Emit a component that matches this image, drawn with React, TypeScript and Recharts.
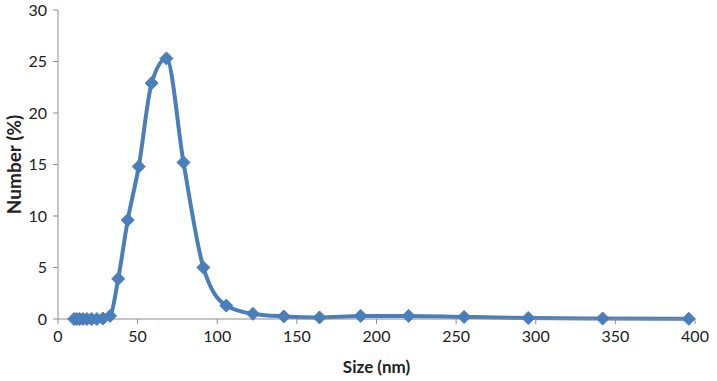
import { CartesianGrid, Line, LineChart, XAxis, YAxis } from "recharts"

// particle size bins (nm) and number distribution (%)
const sizes = [
  10.1, 11.7, 13.5, 15.7, 18.2, 21.0, 24.4, 28.2, 32.7, 37.8, 43.8, 50.7,
  58.8, 68.1, 78.8, 91.3, 105.7, 122.4, 141.8, 164.2, 190.1, 220.2, 255.0,
  295.3, 342.0, 396.1,
]
const numberPct = [
  0, 0, 0, 0, 0, 0, 0, 0.05, 0.3, 3.9, 9.6, 14.8, 22.9, 25.3, 15.2, 5.0, 1.3,
  0.5, 0.25, 0.15, 0.3, 0.3, 0.2, 0.1, 0.05, 0.02,
]
const xTicks = [0, 50, 100, 150, 200, 250, 300, 350, 400]
const yTicks = [0, 5, 10, 15, 20, 25, 30]

const data = sizes.map((size, i) => ({ size, pct: numberPct[i] }))

const BLUE = "#4a7ebb"
const FONT = "Lato, 'Open Sans', sans-serif"

function Diamond(props: any) {
  const { cx, cy } = props
  if (cx == null || cy == null) return null
  const r = 6.5
  return (
    <polygon
      points={`${cx},${cy - r} ${cx + r},${cy} ${cx},${cy + r} ${cx - r},${cy}`}
      fill={BLUE}
      stroke={BLUE}
      strokeWidth={1}
    />
  )
}

function YTitle(props: any) {
  const vb = props.viewBox || { y: 0, height: 0 }
  const cy = vb.y + vb.height / 2
  return (
    <text
      x={13}
      y={cy}
      transform={`rotate(-90, 13, ${cy})`}
      textAnchor="middle"
      dominantBaseline="central"
      style={{ fontSize: 19, fontWeight: 700, fill: "#222", fontFamily: FONT }}
    >
      Number (%)
    </text>
  )
}

export default function App() {
  return (
    <div style={{ position: "fixed", left: 0, top: 0, width: 717, height: 381, background: "#fff" }}>
      <LineChart
        width={717}
        height={381}
        data={data}
        margin={{ top: 10, right: 22, left: 0, bottom: 32 }}
      >
        <CartesianGrid stroke="none" />
        <XAxis
          dataKey="size"
          type="number"
          domain={[0, 400]}
          ticks={xTicks}
          axisLine={{ stroke: "#8c8c8c" }}
          tickLine={{ stroke: "#8c8c8c" }}
          tickSize={5}
          tickMargin={7}
          tick={{ fontSize: 16, fill: "#222", fontFamily: FONT }}
          height={30}
          label={{
            value: "Size (nm)",
            position: "insideBottom",
            offset: -24,
            style: { fontSize: 17, fontWeight: 700, fill: "#222", fontFamily: FONT },
          }}
        />
        <YAxis
          type="number"
          domain={[0, 30]}
          ticks={yTicks}
          width={58}
          axisLine={{ stroke: "#8c8c8c" }}
          tickLine={{ stroke: "#8c8c8c" }}
          tickSize={5}
          tickMargin={6}
          tick={{ fontSize: 16, fill: "#222", fontFamily: FONT }}
          label={<YTitle />}
        />
        <Line
          type="monotone"
          dataKey="pct"
          stroke={BLUE}
          strokeWidth={4}
          dot={<Diamond />}
          activeDot={false}
          isAnimationActive={false}
        />
      </LineChart>
    </div>
  )
}
